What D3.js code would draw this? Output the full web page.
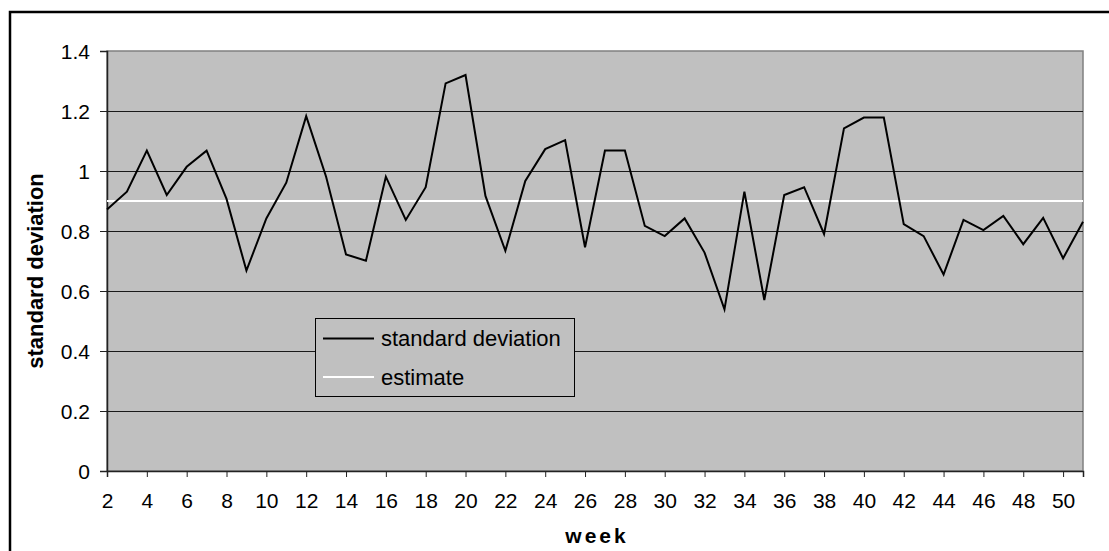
<!DOCTYPE html>
<html lang="en">
<head>
<meta charset="utf-8">
<style>
  body { margin: 0; background: #fff; }
  svg text { font-family: Arial, "Liberation Sans", sans-serif; fill: #000; }
</style>
</head>
<body>
<div id="chart"></div>
<script src="https://d3js.org/d3.v7.min.js"></script>
<script>
// weeks 2..51
const weeks = [2, 3, 4, 5, 6, 7, 8, 9, 10, 11, 12, 13, 14, 15, 16, 17, 18, 19, 20, 21,
  22, 23, 24, 25, 26, 27, 28, 29, 30, 31, 32, 33, 34, 35, 36, 37, 38, 39, 40, 41,
  42, 43, 44, 45, 46, 47, 48, 49, 50, 51];
const stdDev = [0.872, 0.931, 1.068, 0.92, 1.014, 1.068, 0.907, 0.668, 0.842, 0.961,
  1.183, 0.981, 0.722, 0.701, 0.981, 0.837, 0.946, 1.292, 1.32, 0.917,
  0.734, 0.967, 1.073, 1.103, 0.746, 1.068, 1.068, 0.817, 0.783, 0.842,
  0.728, 0.539, 0.931, 0.57, 0.92, 0.946, 0.79, 1.142, 1.178, 1.178,
  0.823, 0.783, 0.655, 0.837, 0.803, 0.85, 0.756, 0.844, 0.709, 0.831];
const estimate = 0.9;
const xTicks = [2, 4, 6, 8, 10, 12, 14, 16, 18, 20, 22, 24, 26, 28, 30, 32, 34, 36, 38, 40, 42, 44, 46, 48, 50];
const yTicks = [0, 0.2, 0.4, 0.6, 0.8, 1, 1.2, 1.4];
const seriesNames = ["standard deviation", "estimate"];

const W = 1109, H = 551;
const plotL = 107, plotR = 1083, plotT = 51, plotB = 471;

const svg = d3.select("#chart").append("svg")
  .attr("width", W)
  .attr("height", H);

// outer chart frame (runs off the right and bottom of the picture)
svg.append("rect")
  .attr("x", 10).attr("y", 12)
  .attr("width", 1120).attr("height", 560)
  .attr("fill", "none")
  .attr("stroke", "#000")
  .attr("stroke-width", 2.5);

const x = d3.scaleLinear().domain([2, 51]).range([plotL, plotR]);
const y = d3.scaleLinear().domain([0, 1.4]).range([plotB, plotT]);

// plot area
svg.append("rect")
  .attr("x", plotL).attr("y", plotT)
  .attr("width", plotR - plotL).attr("height", plotB - plotT)
  .attr("fill", "#c0c0c0")
  .attr("stroke", "#808080")
  .attr("stroke-width", 1.5);

// gridlines
svg.append("g")
  .selectAll("line")
  .data(yTicks.filter(d => d > 0 && d < 1.4))
  .enter()
  .append("line")
  .attr("x1", plotL).attr("x2", plotR)
  .attr("y1", d => Math.round(y(d)) + 0.5)
  .attr("y2", d => Math.round(y(d)) + 0.5)
  .attr("stroke", "#1a1a1a")
  .attr("stroke-width", 1);

// y axis
const yAxis = svg.append("g")
  .attr("transform", `translate(${plotL},0)`)
  .call(d3.axisLeft(y).tickValues(yTicks).tickFormat(d => String(d)).tickSize(7).tickPadding(10));
yAxis.select(".domain").attr("stroke", "#222").attr("stroke-width", 1.5);
yAxis.selectAll(".tick line").attr("stroke", "#222");
yAxis.selectAll(".tick text").style("font-size", "21px").attr("dy", "0.35em");

// x axis
const xAxis = svg.append("g")
  .attr("transform", `translate(0,${plotB})`)
  .call(d3.axisBottom(x).tickValues(xTicks).tickFormat(d => String(d)).tickSize(6).tickPadding(16));
xAxis.select(".domain").attr("stroke", "#222").attr("stroke-width", 1.5);
xAxis.selectAll(".tick line").attr("stroke", "#222");
xAxis.selectAll(".tick text").style("font-size", "21px");

// estimate line
svg.append("line")
  .attr("x1", plotL).attr("x2", plotR)
  .attr("y1", y(estimate)).attr("y2", y(estimate))
  .attr("stroke", "#fff")
  .attr("stroke-width", 2);

// standard deviation line
const line = d3.line()
  .x((d, i) => x(weeks[i]))
  .y(d => y(d));

svg.append("path")
  .datum(stdDev)
  .attr("d", line)
  .attr("fill", "none")
  .attr("stroke", "#000")
  .attr("stroke-width", 2)
  .attr("stroke-linejoin", "miter");

// axis titles
svg.append("text")
  .attr("x", 597)
  .attr("y", 543)
  .attr("text-anchor", "middle")
  .style("font-size", "21px")
  .style("font-weight", "bold")
  .style("letter-spacing", "3px")
  .text("week");

svg.append("text")
  .attr("transform", "translate(43,271) rotate(-90)")
  .attr("text-anchor", "middle")
  .style("font-size", "22px")
  .style("font-weight", "bold")
  .text("standard deviation");

// legend
const legend = svg.append("g").attr("transform", "translate(315,318)");
legend.append("rect")
  .attr("x", 0.5).attr("y", 0.5)
  .attr("width", 259).attr("height", 78)
  .attr("fill", "#c0c0c0")
  .attr("stroke", "#000")
  .attr("stroke-width", 1);

const legendColors = ["#000", "#fff"];
const rows = legend.selectAll("g.row")
  .data(seriesNames)
  .enter()
  .append("g")
  .attr("class", "row")
  .attr("transform", (d, i) => `translate(0,${20.5 + i * 38.5})`);
rows.append("line")
  .attr("x1", 8).attr("x2", 59)
  .attr("y1", 0).attr("y2", 0)
  .attr("stroke", (d, i) => legendColors[i])
  .attr("stroke-width", 2);
rows.append("text")
  .attr("x", 66)
  .attr("y", 7.5)
  .style("font-size", "22px")
  .text(d => d);
</script>
</body>
</html>
